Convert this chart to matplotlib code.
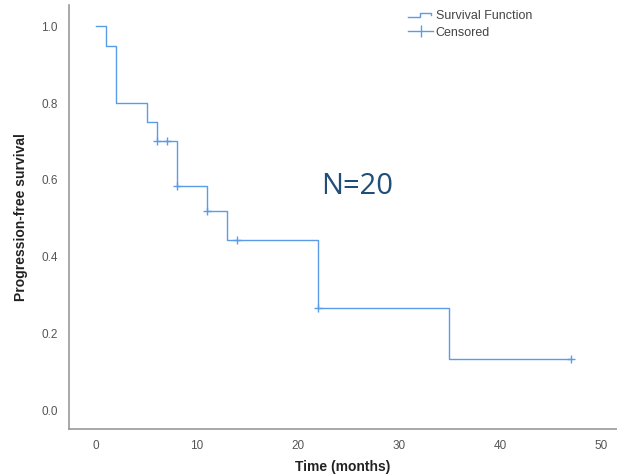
import matplotlib
matplotlib.use("Agg")
import matplotlib.pyplot as plt
from matplotlib.legend_handler import HandlerBase
from matplotlib.lines import Line2D

# Kaplan-Meier steps
step_times = [0, 1, 2, 5, 6, 8, 11, 13, 22, 35]
survival = [1.0, 0.95, 0.80, 0.75, 0.70, 0.583, 0.519, 0.444, 0.267, 0.133]
last_time = 47

censor_times = [6, 7, 8, 11, 14, 22, 47]
censor_surv = [0.70, 0.70, 0.583, 0.519, 0.444, 0.267, 0.133]

x_ticks = [0, 10, 20, 30, 40, 50]
y_ticks = [0.0, 0.2, 0.4, 0.6, 0.8, 1.0]

blue = "#5b9ce8"
grey_txt = "#555555"

plt.rcParams['font.family'] = ['Liberation Sans', 'DejaVu Sans']


class StepHandler(HandlerBase):
    # draws a small step in the legend like SPSS does
    def create_artists(self, legend, orig, xd, yd, w, h, fontsize, trans):
        xs = [xd, xd + w * 0.45, xd + w * 0.45, xd + w * 0.9, xd + w * 0.9]
        ys = [yd + h * 0.2, yd + h * 0.2, yd + h * 0.75, yd + h * 0.75, yd + h * 0.45]
        ln = Line2D(xs, ys, color=blue, lw=1.0, transform=trans)
        return [ln]


fig = plt.figure(figsize=(6.17, 4.74), dpi=100)
ax = fig.add_axes([0.112, 0.095, 0.888, 0.894])

xs = step_times + [last_time]
ys = survival + [survival[-1]]
surv_line, = ax.step(xs, ys, where='post', color=blue, lw=1.0)
cens, = ax.plot(censor_times, censor_surv, '+', color=blue, ms=6, mew=1.0)

ax.set_xlim(-2.67, 51.6)
ax.set_ylim(-0.049, 1.055)
ax.set_xticks(x_ticks)
ax.set_yticks(y_ticks)
ax.set_yticklabels([f"{v:.1f}" for v in y_ticks])
ax.tick_params(length=0, labelsize=8.5, labelcolor=grey_txt, pad=8)

for s in ['top', 'right']:
    ax.spines[s].set_visible(False)
for s in ['left', 'bottom']:
    ax.spines[s].set_color('#999999')
    ax.spines[s].set_linewidth(1.2)

ax.set_xlabel("Time (months)", fontsize=10, fontweight='bold', color='#222222', labelpad=6)
ax.set_ylabel("Progression-free survival", fontsize=10, fontweight='bold', color='#222222', labelpad=10)

fig.text(357 / 617, 1 - 187 / 474, "N=20", fontsize=21, color='#1f4e79',
         family=['Open Sans', 'DejaVu Sans'], ha='center', va='center')

cens_handle = Line2D([], [], color=blue, lw=1.0, marker='|', ms=9, mew=1.0)
leg = ax.legend([surv_line, cens_handle], ["Survival Function", "Censored"],
                handler_map={surv_line: StepHandler()},
                loc='upper left', bbox_to_anchor=(0.61, 1.0), frameon=False,
                fontsize=9, handlelength=2.0, handletextpad=0.2, labelspacing=0.35,
                borderaxespad=0)
for t in leg.get_texts():
    t.set_color('#444444')

fig.savefig("out.png", dpi=100)
